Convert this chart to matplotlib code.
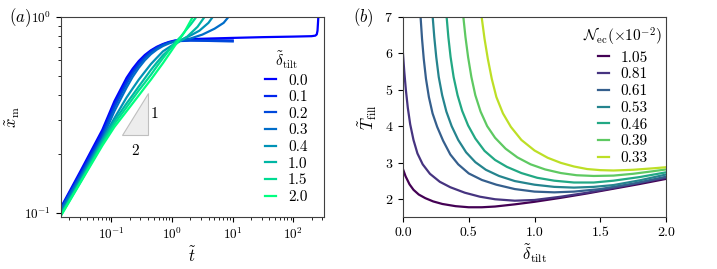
import numpy as np
import matplotlib
matplotlib.use("Agg")
import matplotlib.pyplot as plt
from matplotlib.ticker import LogLocator, NullFormatter, MultipleLocator, FormatStrFormatter

plt.rcParams["font.family"] = "serif"
plt.rcParams["font.serif"] = ["cmr10"]
plt.rcParams["mathtext.fontset"] = "cm"
plt.rcParams["axes.unicode_minus"] = False
plt.rcParams["axes.formatter.use_mathtext"] = True

# (a) front position vs time, one curve per tilt
t_early = [0.0147, 0.0316, 0.0708, 0.112, 0.178, 0.224, 0.282, 0.355, 0.447, 0.562, 0.708, 0.89, 1.12]
tilt_labels = ["0.0", "0.1", "0.2", "0.3", "0.4", "1.0", "1.5", "2.0"]
t_curves = [
    t_early + [2.0, 3.98, 10, 31.6, 100, 200, 230, 243, 250, 254, 258],
    t_early + [2.0, 3.98, 10],
    t_early + [2.0, 3.98, 10],
    t_early + [1.5, 2.0, 3.16, 5.01, 7.08, 8.51],
    t_early + [1.58, 2.1, 2.82, 3.98, 4.68],
    t_early + [1.41, 1.78, 2.63, 3.43],
    t_early + [1.4, 1.66, 2.05, 2.51],
    t_early + [1.33, 1.58, 2.19],
]
x_curves = [
    [0.107, 0.166, 0.266, 0.372, 0.490, 0.545, 0.596, 0.640, 0.676, 0.705, 0.728, 0.746, 0.759,
     0.771, 0.776, 0.782, 0.789, 0.794, 0.798, 0.803, 0.815, 0.85, 0.92, 1.0],
    [0.106, 0.162, 0.257, 0.359, 0.473, 0.530, 0.582, 0.628, 0.668, 0.699, 0.724, 0.742, 0.755,
     0.762, 0.762, 0.759],
    [0.105, 0.158, 0.248, 0.347, 0.457, 0.515, 0.569, 0.618, 0.661, 0.694, 0.721, 0.739, 0.752,
     0.757, 0.755, 0.750],
    [0.104, 0.155, 0.240, 0.331, 0.437, 0.495, 0.550, 0.601, 0.646, 0.682, 0.711, 0.733, 0.750,
     0.764, 0.776, 0.813, 0.871, 0.933, 1.0],
    [0.100, 0.151, 0.237, 0.305, 0.389, 0.432, 0.479, 0.525, 0.575, 0.620, 0.668, 0.700, 0.733,
     0.776, 0.81, 0.851, 0.933, 1.0],
    [0.0989, 0.148, 0.232, 0.295, 0.363, 0.400, 0.442, 0.487, 0.537, 0.586, 0.638, 0.681, 0.724,
     0.76, 0.794, 0.891, 1.0],
    [0.0977, 0.146, 0.226, 0.285, 0.347, 0.383, 0.422, 0.462, 0.507, 0.560, 0.617, 0.677, 0.741,
     0.795, 0.851, 0.92, 1.0],
    [0.0970, 0.145, 0.221, 0.275, 0.331, 0.363, 0.398, 0.437, 0.479, 0.528, 0.582, 0.645, 0.716,
     0.77, 0.832, 1.0],
]
tri_t = [0.147, 0.406, 0.406]
tri_x = [0.249, 0.249, 0.412]

# (b) filling time vs tilt
nec_labels = ["1.05", "0.81", "0.61", "0.53", "0.46", "0.39", "0.33"]
d_curves = [
    [0, 0.02, 0.05, 0.08, 0.12, 0.17, 0.23, 0.3, 0.4, 0.5, 0.6, 0.7, 0.85, 1.0, 1.2, 1.4, 1.6, 1.8, 2.0],
    [0, 0.01, 0.022, 0.037, 0.055, 0.08, 0.11, 0.15, 0.205, 0.28, 0.36, 0.47, 0.585, 0.7, 0.85,
     1.0, 1.2, 1.4, 1.6, 1.8, 2.0],
    [0.134, 0.145, 0.158, 0.175, 0.197, 0.225, 0.26, 0.305, 0.36, 0.42, 0.5, 0.6, 0.71, 0.85,
     1.0, 1.15, 1.3, 1.5, 1.75, 2.0],
    [0.226, 0.238, 0.253, 0.272, 0.298, 0.33, 0.37, 0.42, 0.48, 0.55, 0.63, 0.73, 0.85, 1.0,
     1.15, 1.3, 1.45, 1.6, 1.8, 2.0],
    [0.332, 0.345, 0.362, 0.385, 0.415, 0.45, 0.495, 0.55, 0.62, 0.7, 0.79, 0.9, 1.02, 1.15,
     1.3, 1.45, 1.6, 1.8, 2.0],
    [0.459, 0.475, 0.495, 0.52, 0.55, 0.59, 0.64, 0.7, 0.78, 0.87, 0.97, 1.08, 1.2, 1.32,
     1.45, 1.6, 1.75, 1.9, 2.0],
    [0.598, 0.62, 0.645, 0.675, 0.71, 0.76, 0.82, 0.9, 1.0, 1.1, 1.2, 1.3, 1.4, 1.5, 1.6,
     1.75, 1.9, 2.0],
]
T_curves = [
    [2.82, 2.62, 2.4, 2.25, 2.12, 2.02, 1.93, 1.86, 1.8, 1.77, 1.77, 1.79, 1.85, 1.92, 2.03,
     2.15, 2.28, 2.41, 2.55],
    [6.0, 5.5, 5.0, 4.5, 4.05, 3.62, 3.25, 2.95, 2.69, 2.47, 2.32, 2.17, 2.06, 1.99, 1.95,
     1.97, 2.06, 2.17, 2.3, 2.44, 2.58],
    [7.0, 6.4, 5.85, 5.3, 4.8, 4.35, 3.98, 3.6, 3.22, 2.95, 2.7, 2.52, 2.39, 2.27, 2.2, 2.18,
     2.2, 2.27, 2.42, 2.61],
    [7.0, 6.45, 5.9, 5.35, 4.85, 4.4, 4.0, 3.62, 3.28, 3.01, 2.8, 2.63, 2.49, 2.39, 2.33,
     2.31, 2.33, 2.38, 2.51, 2.67],
    [7.0, 6.45, 5.9, 5.35, 4.85, 4.42, 4.02, 3.66, 3.32, 3.07, 2.88, 2.71, 2.58, 2.5, 2.45,
     2.45, 2.5, 2.6, 2.73],
    [7.0, 6.45, 5.9, 5.35, 4.85, 4.4, 4.0, 3.68, 3.38, 3.14, 2.95, 2.81, 2.71, 2.65, 2.63,
     2.64, 2.69, 2.76, 2.81],
    [7.0, 6.4, 5.85, 5.3, 4.8, 4.35, 3.98, 3.62, 3.33, 3.13, 2.99, 2.89, 2.82, 2.79, 2.78,
     2.8, 2.84, 2.87],
]

fig = plt.figure(figsize=(7.17, 2.69), dpi=100)
ax1 = fig.add_axes([0.085, 0.193, 0.367, 0.744])
ax2 = fig.add_axes([0.562, 0.193, 0.367, 0.744])

cols_a = plt.cm.winter(np.linspace(0, 1, len(tilt_labels)))
for tt, xx, lab, c in zip(t_curves, x_curves, tilt_labels, cols_a):
    ax1.plot(tt, xx, color=c, lw=1.6, label=lab)
ax1.fill(tri_t, tri_x, facecolor="0.93", edgecolor="0.75", lw=0.8)
ax1.text(0.45, 0.32, "1", fontsize=11, va="center", ha="left")
ax1.text(0.245, 0.225, "2", fontsize=11, va="top", ha="center")
ax1.set_xscale("log")
ax1.set_yscale("log")
ax1.set_xlim(0.0147, 321)
ax1.set_ylim(0.0955, 1.0)
ax1.xaxis.set_major_locator(LogLocator(base=10, numticks=10))
ax1.xaxis.set_minor_locator(LogLocator(base=10, subs=np.arange(2, 10), numticks=20))
ax1.xaxis.set_minor_formatter(NullFormatter())
ax1.yaxis.set_minor_formatter(NullFormatter())
ax1.set_xlabel(r"$\tilde{t}$", fontsize=12, labelpad=2)
ax1.set_ylabel(r"$\tilde{x}_{\rm m}$", fontsize=12, labelpad=2)
ax1.tick_params(labelsize=9.5)
ax1.legend(title=r"$\tilde{\delta}_{\rm tilt}$", loc="upper left",
           bbox_to_anchor=(0.735, 0.89), frameon=False, fontsize=11,
           title_fontsize=11, handlelength=0.7, handletextpad=0.8,
           labelspacing=0.19, borderpad=0.2)

cols_b = plt.cm.viridis(np.linspace(0, 0.9, len(nec_labels)))
for dd, TT, lab, c in zip(d_curves, T_curves, nec_labels, cols_b):
    ax2.plot(dd, TT, color=c, lw=1.6, label=lab)
ax2.set_xlim(0, 2.0)
ax2.set_ylim(1.5, 7)
ax2.xaxis.set_major_locator(MultipleLocator(0.5))
ax2.yaxis.set_major_locator(MultipleLocator(1))
ax2.xaxis.set_major_formatter(FormatStrFormatter("%.1f"))
ax2.set_xlabel(r"$\tilde{\delta}_{\rm tilt}$", fontsize=12, labelpad=2)
ax2.set_ylabel(r"$\tilde{T}_{\rm fill}$", fontsize=12, labelpad=4)
ax2.tick_params(labelsize=10)
ax2.legend(title=r"$\mathcal{N}_{\rm ec}(\times 10^{-2})$", loc="upper left",
           bbox_to_anchor=(0.645, 1.01), frameon=False, fontsize=11,
           title_fontsize=11, handlelength=0.7, handletextpad=0.8,
           labelspacing=0.2, borderpad=0.2)

for ax in (ax1, ax2):
    for s in ax.spines.values():
        s.set_color("0.25")

fig.text(0.012, 0.935, r"$(a)$", fontsize=12, va="center")
fig.text(0.493, 0.935, r"$(b)$", fontsize=12, va="center")

fig.savefig("out.png", dpi=100)
